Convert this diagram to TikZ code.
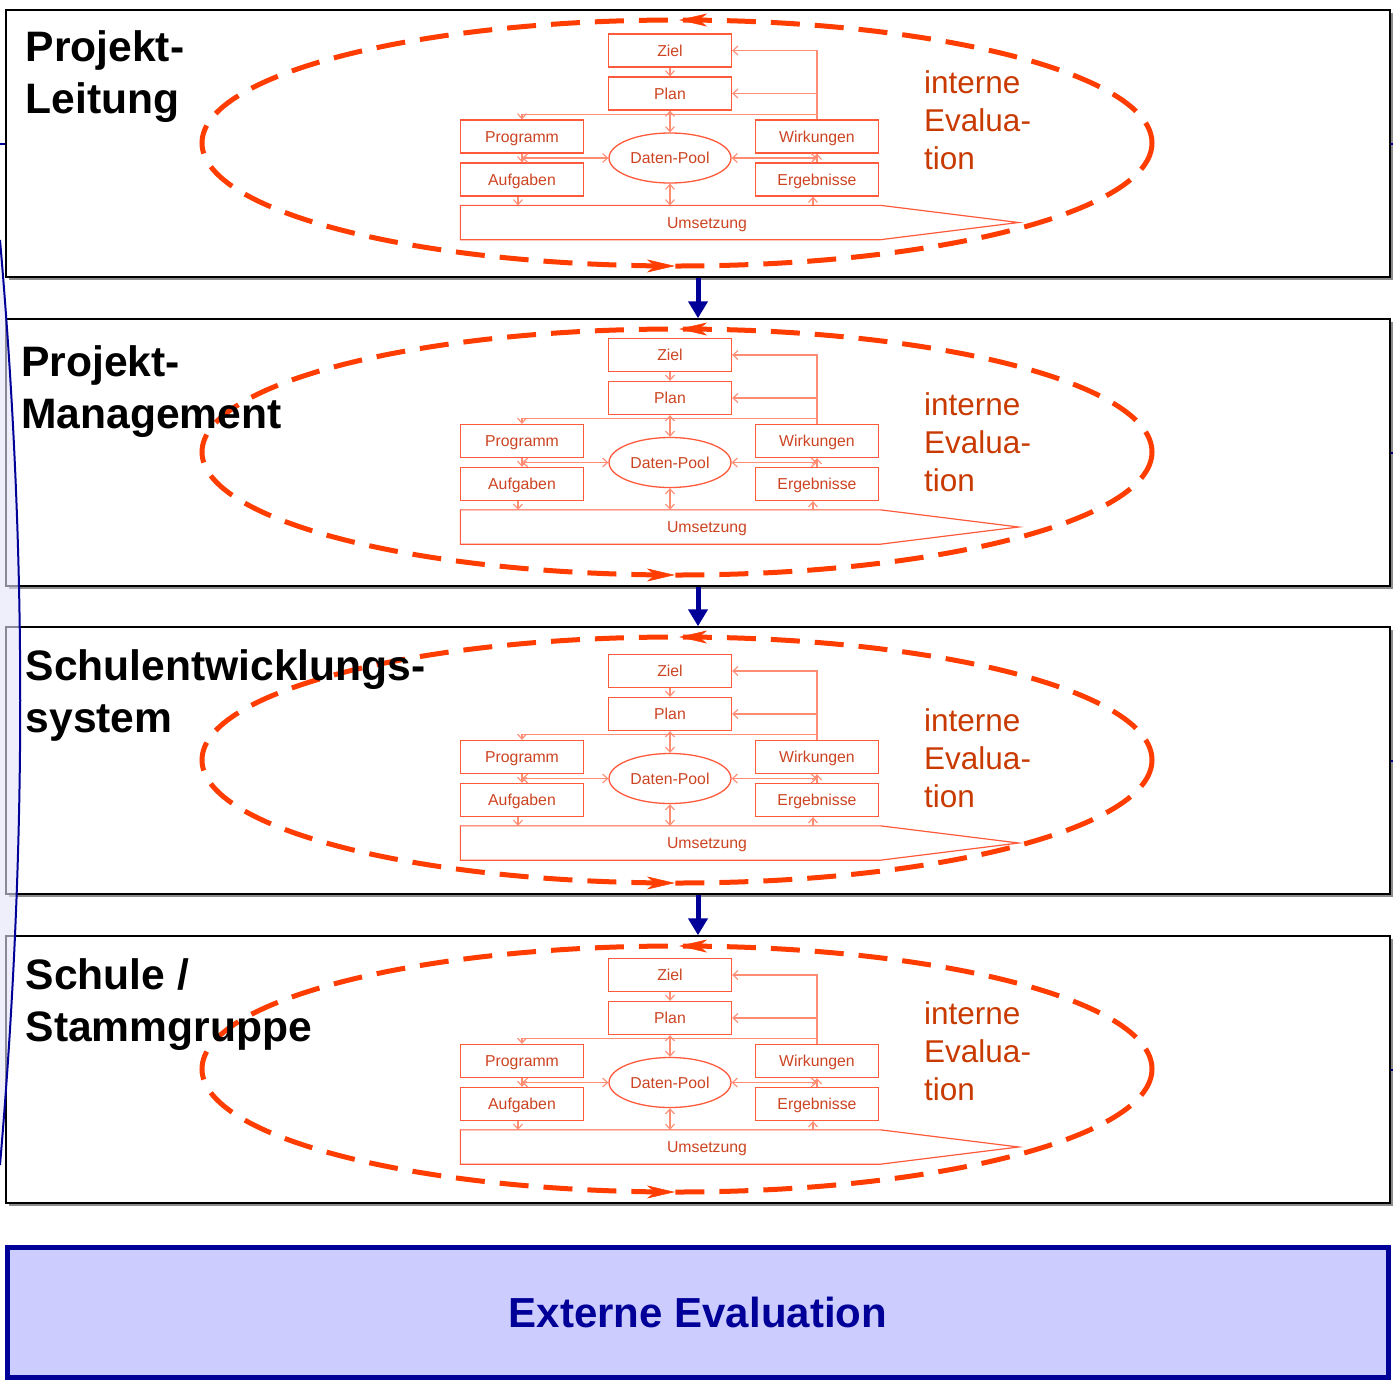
\documentclass[tikz,border=0pt]{standalone}
\usepackage{fontspec}
\setmainfont{Liberation Sans}
\usetikzlibrary{arrows.meta,shapes.geometric,decorations.markings}
\definecolor{boxred}{RGB}{255,90,60}
\definecolor{linkred}{RGB}{255,140,115}
\definecolor{textred}{RGB}{204,68,34}
\definecolor{evalred}{RGB}{255,61,0}
\definecolor{intred}{RGB}{200,58,0}
\definecolor{extnavy}{RGB}{0,0,153}
\definecolor{extfill}{RGB}{204,204,255}
\definecolor{lavender}{RGB}{228,228,250}
\newcommand{\lblfont}{\fontsize{15.8}{19}\selectfont}

\begin{document}
\begin{tikzpicture}[x=1pt,y=-1pt]
	\tikzset{panel/.style={draw=black,line width=1.5pt,fill=white,minimum width=1384pt,minimum height=267pt,inner sep=0pt}}
	\tikzset{panelshadow/.style={fill=black!45}}
	\tikzset{stepbox/.style={draw=boxred,line width=1.3pt,minimum width=123pt,minimum height=33pt,inner sep=0pt,text height=11.3pt,text depth=0.3pt,text=textred,font=\lblfont}}
	\tikzset{pool/.style={stepbox,ellipse,minimum width=122pt,minimum height=50pt}}
	\tikzset{link/.style={draw=linkred,line width=1.1pt,-{Straight Barb[length=5pt,width=9pt]}}}
	\tikzset{link2/.style={link,{Straight Barb[length=5pt,width=9pt]}-{Straight Barb[length=5pt,width=9pt]}}}
	\tikzset{evalloop/.style={draw=evalred,line width=5pt,dash pattern=on 29pt off 15pt,
		decoration={markings,
			mark=at position 0.251 with {\arrowreversed{Stealth[length=28pt,width=13pt,inset=8pt,line width=0.5pt]}},
			mark=at position 0.751 with {\arrowreversed{Stealth[length=28pt,width=13pt,inset=8pt,line width=0.5pt]}}},
		postaction={decorate}}}
	\tikzset{title/.style={anchor=north west,inner sep=0pt,align=left,font=\fontsize{42.6}{52}\selectfont\bfseries}}
	\tikzset{inttext/.style={anchor=north west,inner sep=0pt,align=left,text=intred,font=\fontsize{31.5}{38}\selectfont}}
	\tikzset{downarrow/.style={draw=extnavy,line width=5pt,-{Triangle[length=17pt,width=19pt]}}}
	\tikzset{extbox/.style={draw=extnavy,line width=5pt,fill=extfill,minimum width=1381pt,minimum height=130pt,text=extnavy,font=\fontsize{42}{50}\selectfont\bfseries}}
	\useasboundingbox (0,0) rectangle (1393,1382);
	\foreach \n/\ptop/\zy/\iy/\tx/\ty/\ttl in {
		1/10/50.5/70.5/25.5/30/{Projekt-\\Leitung},
		2/319/355/392.5/21/345/{Projekt-\\Management},
		3/627/671/708.5/25.5/649/{Schulentwicklungs-\\system},
		4/936/975/1001.5/25.5/958/{Schule /\\Stammgruppe}}
	{
		\fill[panelshadow] (8.5,\ptop+2.5) rectangle (1392.5,\ptop+269.5);
		\node[panel] (panel\n) at (698,\ptop+133.5) {};
		\draw[extnavy,line width=2pt] (panel\n.east) -- ++(5,0);
		\draw[evalloop] (677,\ptop+133) ellipse [x radius=475,y radius=123];
		\node[stepbox] (ziel\n) at (670,\zy) {Ziel};
		\node[stepbox] (plan\n) at (670,\zy+43) {Plan};
		\node[stepbox] (prog\n) at (522,\zy+86) {Programm};
		\node[stepbox] (aufg\n) at (522,\zy+129) {Aufgaben};
		\node[stepbox] (wirk\n) at (817,\zy+86) {Wirkungen};
		\node[stepbox] (erg\n) at (817,\zy+129) {Ergebnisse};
		\node[pool] (pool\n) at (670,\zy+107.5) {Daten-Pool};
		\node[stepbox,draw=none,minimum width=419pt,label={[text=textred,font=\lblfont,text height=11.3pt,text depth=0.3pt,xshift=36.5pt]center:Umsetzung}] (ums\n) at (670.5,\zy+172) {};
		\draw[boxred,line width=1.2pt] (ums\n.north west) -- (ums\n.north east) -- ([xshift=138pt]ums\n.east) -- (ums\n.south east) -- (ums\n.south west) -- cycle;
		\draw[link] (ziel\n) -- (plan\n);
		\draw[link] (prog\n) -- (aufg\n);
		\draw[link] (erg\n) -- (wirk\n);
		\draw[link2] (plan\n) -- (pool\n);
		\draw[link2] (pool\n) -- (pool\n |- ums\n.north);
		\draw[link2] (pool\n.west) -- (pool\n.west -| prog\n);
		\draw[link2] (pool\n.east) -- (pool\n.east -| wirk\n);
		\draw[link] ([xshift=-4pt]aufg\n.south) -- ([xshift=-4pt]aufg\n.south |- ums\n.north);
		\draw[link] ([xshift=-4pt]erg\n.south |- ums\n.north) -- ([xshift=-4pt]erg\n.south);
		\draw[link] (wirk\n.north) |- (ziel\n.east);
		\draw[link] (wirk\n.north |- plan\n.east) -- (plan\n.east);
		\draw[link] ([yshift=5pt]wirk\n.north) -| (prog\n.north);
		\node[inttext] (int\n) at (924,\iy) {interne\\Evalua-\\tion};
		\node[title] (title\n) at (\tx,\ty) {\ttl};
	}
	\foreach \a/\b in {1/2,2/3,3/4}
		\draw[downarrow] (panel\a.south) -- (panel\b.north);
	\node[extbox] (extern) at (698,1312.5) {Externe Evaluation};
	\fill[lavender,opacity=0.6] (0,240) .. controls (27,550) and (27,850) .. (0,1165) -- cycle;
	\draw[extnavy,line width=2pt] (0,240) .. controls (27,550) and (27,850) .. (0,1165);
	\draw[extnavy,line width=2pt] (panel1.west) -- ++(-6,0);
\end{tikzpicture}
\end{document}
